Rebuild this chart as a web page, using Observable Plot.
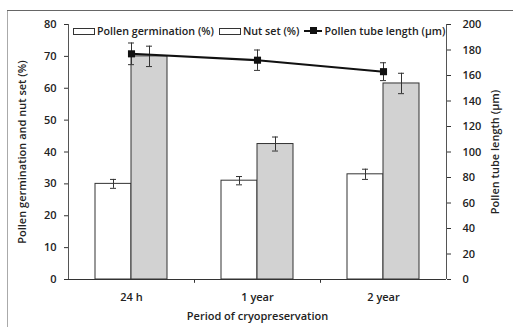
<!DOCTYPE html>
<html><head><meta charset="utf-8">
<script src="https://cdn.jsdelivr.net/npm/d3@7"></script>
<script src="https://cdn.jsdelivr.net/npm/@observablehq/plot@0.6"></script>
<style>
body{margin:0;background:#fff;}
#wrap{position:relative;width:513px;height:327px;overflow:hidden;font-family:"Open Sans",sans-serif;}
#legend{position:absolute;top:24px;left:73px;font-size:10.7px;font-weight:600;color:#222;display:flex;align-items:center;white-space:nowrap;}
#legend .sw{display:inline-block;width:20px;height:5px;border:1px solid #333;background:#fff;margin-right:2px;}
#legend .it{display:flex;align-items:center;margin-right:5px;}
#legend .ln{position:relative;display:inline-block;width:18px;height:2px;background:#111;margin-right:2px;}
#legend .ln i{position:absolute;left:6px;top:-3px;width:7px;height:7px;background:#111;}
#bl{position:absolute;left:7px;top:10px;width:1px;height:317px;background:#aaa;}
#bt{position:absolute;left:7px;top:10px;width:506px;height:1px;background:#666;}
</style></head>
<body><div id="wrap"><div id="bl"></div><div id="bt"></div><div id="chart"></div>
<div id="legend"><span class="it"><span class="sw"></span>Pollen germination (%)</span><span class="it"><span class="sw"></span>Nut set (%)</span><span class="it"><span class="ln"><i></i></span>Pollen tube length (µm)</span></div></div>
<script>
const categories = ["24 h", "1 year", "2 year"];
const germination = [30, 31, 33];
const germinationErr = [1.4, 1.3, 1.6];
const nutSet = [70, 42.5, 61.5];
const nutSetErr = [3.2, 2.2, 3.2];
const tubeLength = [177, 172, 163];
const tubeLengthErr = [8.5, 8, 7];
const leftTicks = [0, 10, 20, 30, 40, 50, 60, 70, 80];
const rightTicks = [0, 20, 40, 60, 80, 100, 120, 140, 160, 180, 200];

const k = 80 / 200; // right axis -> left axis
const rows = categories.map((c, i) => ({
  cat: c, g: germination[i], ge: germinationErr[i], n: nutSet[i], ne: nutSetErr[i],
  t: tubeLength[i] * k, te: tubeLengthErr[i] * k
}));
const font = "'Open Sans', sans-serif";
const ink = "#222";

const chart = Plot.plot({
  width: 513, height: 327,
  marginLeft: 68, marginRight: 67, marginTop: 24, marginBottom: 48,
  style: {fontFamily: font, fontSize: "11px", fontWeight: 600, color: ink, background: "transparent", overflow: "visible"},
  x: {domain: categories, padding: 0, axis: null},
  y: {domain: [0, 80], axis: null},
  marks: [
    Plot.barY(rows, {x: "cat", y: "g", fill: "#fff", stroke: "#333", strokeWidth: 1, insetLeft: 27, insetRight: 63}),
    Plot.barY(rows, {x: "cat", y: "n", fill: "#d2d2d2", stroke: "#333", strokeWidth: 1, insetLeft: 63, insetRight: 27}),
    Plot.ruleX(rows, {x: "cat", dx: -18, y1: d => d.g - d.ge, y2: d => d.g + d.ge, stroke: "#333"}),
    Plot.tickY(rows, {x: "cat", dx: -18, y: d => d.g - d.ge, insetLeft: 60, insetRight: 60, stroke: "#333"}),
    Plot.tickY(rows, {x: "cat", dx: -18, y: d => d.g + d.ge, insetLeft: 60, insetRight: 60, stroke: "#333"}),
    Plot.ruleX(rows, {x: "cat", dx: 18, y1: d => d.n - d.ne, y2: d => d.n + d.ne, stroke: "#333"}),
    Plot.tickY(rows, {x: "cat", dx: 18, y: d => d.n - d.ne, insetLeft: 60, insetRight: 60, stroke: "#333"}),
    Plot.tickY(rows, {x: "cat", dx: 18, y: d => d.n + d.ne, insetLeft: 60, insetRight: 60, stroke: "#333"}),
    Plot.ruleX(rows, {x: "cat", y1: d => d.t - d.te, y2: d => d.t + d.te, stroke: "#333"}),
    Plot.tickY(rows, {x: "cat", y: d => d.t - d.te, insetLeft: 60, insetRight: 60, stroke: "#333"}),
    Plot.tickY(rows, {x: "cat", y: d => d.t + d.te, insetLeft: 60, insetRight: 60, stroke: "#333"}),
    Plot.line(rows, {x: "cat", y: "t", stroke: "#111", strokeWidth: 2}),
    Plot.dot(rows, {x: "cat", y: "t", symbol: "square", r: 4, fill: "#111", stroke: "none"}),
    Plot.ruleY([0], {stroke: "#333", strokeWidth: 1.2}),
    Plot.ruleX(categories.slice(0, 2), {x: d => d, dx: 63, y1: 0, y2: -1.2, stroke: "#333"}),
    Plot.axisY(leftTicks, {anchor: "left", tickSize: 4, tickPadding: 8, label: null, stroke: "#333"}),
    Plot.ruleX([0], {x: () => categories[0], dx: -63, y1: 0, y2: 80, stroke: "#555"}),
    Plot.axisY(rightTicks.map(d => d * k), {anchor: "right", tickSize: 4, tickPadding: 12, tickFormat: d => Math.round(d / k), label: null, stroke: "#333"}),
    Plot.ruleX([0], {x: () => categories[2], dx: 63, y1: 0, y2: 80, stroke: "#555"}),
    Plot.text(categories, {x: d => d, y: 0, dy: 18, text: d => d, fill: ink, fontSize: 11}),
    Plot.text(["Period of cryopreservation"], {frameAnchor: "bottom", dy: 40, text: d => d, fill: ink, fontSize: 11}),
    Plot.text(["Pollen germination and nut set (%)"], {frameAnchor: "left", textAnchor: "middle", dx: -46, rotate: -90, text: d => d, fill: ink, fontSize: 11}),
    Plot.text(["Pollen tube length (µm)"], {frameAnchor: "right", textAnchor: "middle", dx: 49, rotate: -90, text: d => d, fill: ink, fontSize: 11})
  ]
});
document.getElementById("chart").append(chart);
</script></body></html>
